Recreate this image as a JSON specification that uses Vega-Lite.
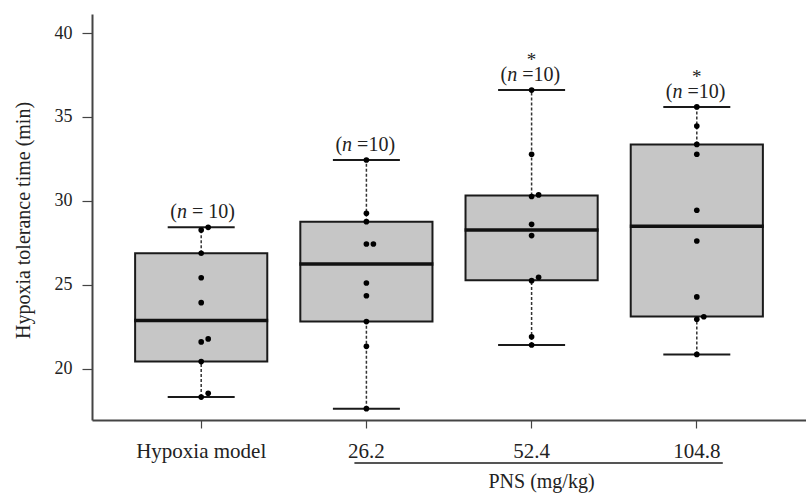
{
  "$schema": "https://vega.github.io/schema/vega-lite/v6.json",
  "width": 714,
  "height": 406,
  "autosize": {"type": "none"},
  "padding": {"left": 92, "top": 14, "right": 0, "bottom": 74},
  "background": "white",
  "config": {"view": {"stroke": null}, "font": "Liberation Serif"},
  "datasets": {
    "boxes": [
      {"group": "Hypoxia model", "lo": 18.33, "q1": 20.44, "median": 22.88, "q3": 26.89, "hi": 28.43, "rest": "= 10)", "star": ""},
      {"group": "26.2", "lo": 17.64, "q1": 22.82, "median": 26.25, "q3": 28.77, "hi": 32.44, "rest": "=10)", "star": ""},
      {"group": "52.4", "lo": 21.43, "q1": 25.28, "median": 28.27, "q3": 30.32, "hi": 36.6, "rest": "=10)", "star": "*"},
      {"group": "104.8", "lo": 20.87, "q1": 23.13, "median": 28.5, "q3": 33.37, "hi": 35.6, "rest": "=10)", "star": "*"}
    ],
    "points": [
      {"group": "Hypoxia model", "time": 28.27, "jit": 0},
      {"group": "Hypoxia model", "time": 28.43, "jit": 1},
      {"group": "Hypoxia model", "time": 26.89, "jit": 0},
      {"group": "Hypoxia model", "time": 25.43, "jit": 0},
      {"group": "Hypoxia model", "time": 23.95, "jit": 0},
      {"group": "Hypoxia model", "time": 21.61, "jit": 0},
      {"group": "Hypoxia model", "time": 21.79, "jit": 1},
      {"group": "Hypoxia model", "time": 20.44, "jit": 0},
      {"group": "Hypoxia model", "time": 18.33, "jit": 0},
      {"group": "Hypoxia model", "time": 18.55, "jit": 1},
      {"group": "26.2", "time": 32.44, "jit": 0},
      {"group": "26.2", "time": 29.27, "jit": 0},
      {"group": "26.2", "time": 28.77, "jit": 0},
      {"group": "26.2", "time": 27.44, "jit": 0},
      {"group": "26.2", "time": 27.44, "jit": 1},
      {"group": "26.2", "time": 25.12, "jit": 0},
      {"group": "26.2", "time": 24.36, "jit": 0},
      {"group": "26.2", "time": 22.82, "jit": 0},
      {"group": "26.2", "time": 21.35, "jit": 0},
      {"group": "26.2", "time": 17.64, "jit": 0},
      {"group": "52.4", "time": 36.6, "jit": 0},
      {"group": "52.4", "time": 32.78, "jit": 0},
      {"group": "52.4", "time": 30.27, "jit": 0},
      {"group": "52.4", "time": 30.36, "jit": 1},
      {"group": "52.4", "time": 28.61, "jit": 0},
      {"group": "52.4", "time": 27.94, "jit": 0},
      {"group": "52.4", "time": 25.26, "jit": 0},
      {"group": "52.4", "time": 25.46, "jit": 1},
      {"group": "52.4", "time": 21.92, "jit": 0},
      {"group": "52.4", "time": 21.43, "jit": 0},
      {"group": "104.8", "time": 35.6, "jit": 0},
      {"group": "104.8", "time": 34.46, "jit": 0},
      {"group": "104.8", "time": 33.37, "jit": 0},
      {"group": "104.8", "time": 32.78, "jit": 0},
      {"group": "104.8", "time": 29.45, "jit": 0},
      {"group": "104.8", "time": 27.62, "jit": 0},
      {"group": "104.8", "time": 24.29, "jit": 0},
      {"group": "104.8", "time": 22.96, "jit": 0},
      {"group": "104.8", "time": 23.11, "jit": 1},
      {"group": "104.8", "time": 20.87, "jit": 0}
    ]
  },
  "encoding": {
    "x": {
      "field": "group",
      "type": "nominal",
      "sort": null,
      "scale": {"domain": ["Hypoxia model", "26.2", "52.4", "104.8"], "paddingInner": 0.2, "paddingOuter": 0.261},
      "axis": {
        "title": "PNS (mg/kg)",
        "titleFontSize": 20,
        "titleFontWeight": "normal",
        "titleColor": "#222",
        "titleX": 449,
        "titleY": 67,
        "titleBaseline": "alphabetic",
        "titleAlign": "center",
        "labelAngle": 0,
        "labelFontSize": 21,
        "labelColor": "#222",
        "labelBaseline": "alphabetic",
        "labelPadding": 29,
        "tickSize": 8,
        "tickColor": "#444",
        "tickWidth": 1.2,
        "domainColor": "#444",
        "domainWidth": 2,
        "grid": false
      }
    }
  },
  "layer": [
    {
      "data": {"name": "boxes"},
      "mark": {"type": "rule", "strokeDash": [3, 2], "strokeWidth": 1.5, "color": "#333"},
      "encoding": {
        "y": {"field": "q3", "type": "quantitative", "scale": {"domain": [16.964, 41.131], "nice": false, "zero": false},
          "axis": {
            "title": "Hypoxia tolerance time (min)",
            "titleFontSize": 20,
            "titleFontWeight": "normal",
            "titleColor": "#222",
            "titleX": -63,
            "titleY": 206,
            "titleAngle": -90,
            "titleBaseline": "alphabetic",
            "titleAlign": "center",
            "values": [20, 25, 30, 35, 40],
            "labelFontSize": 18,
            "labelColor": "#222",
            "labelPadding": 10,
            "tickSize": 10,
            "tickColor": "#444",
            "tickWidth": 1.2,
            "domainColor": "#444",
            "domainWidth": 2,
            "grid": false
          }
        },
        "y2": {"field": "hi"}
      }
    },
    {
      "data": {"name": "boxes"},
      "mark": {"type": "rule", "strokeDash": [3, 2], "strokeWidth": 1.5, "color": "#333"},
      "encoding": {
        "y": {"field": "lo", "type": "quantitative", "scale": {"domain": [16.964, 41.131], "nice": false, "zero": false}},
        "y2": {"field": "q1"}
      }
    },
    {
      "data": {"name": "boxes"},
      "mark": {"type": "bar", "fill": "#c6c6c6", "stroke": "#1a1a1a", "strokeWidth": 2},
      "encoding": {
        "y": {"field": "q1", "type": "quantitative", "scale": {"domain": [16.964, 41.131], "nice": false, "zero": false}},
        "y2": {"field": "q3"}
      }
    },
    {
      "data": {"name": "boxes"},
      "mark": {"type": "tick", "size": 134, "thickness": 3.5, "color": "#111", "opacity": 1},
      "encoding": {
        "y": {"field": "median", "type": "quantitative", "scale": {"domain": [16.964, 41.131], "nice": false, "zero": false}}
      }
    },
    {
      "data": {"name": "boxes"},
      "mark": {"type": "tick", "size": 67, "thickness": 2, "color": "#1a1a1a", "opacity": 1},
      "encoding": {
        "y": {"field": "hi", "type": "quantitative", "scale": {"domain": [16.964, 41.131], "nice": false, "zero": false}}
      }
    },
    {
      "data": {"name": "boxes"},
      "mark": {"type": "tick", "size": 67, "thickness": 2, "color": "#1a1a1a", "opacity": 1},
      "encoding": {
        "y": {"field": "lo", "type": "quantitative", "scale": {"domain": [16.964, 41.131], "nice": false, "zero": false}}
      }
    },
    {
      "data": {"name": "points"},
      "transform": [{"filter": "datum.jit == 0"}],
      "mark": {"type": "circle", "size": 32, "color": "#000", "opacity": 1},
      "encoding": {
        "y": {"field": "time", "type": "quantitative", "scale": {"domain": [16.964, 41.131], "nice": false, "zero": false}}
      }
    },
    {
      "data": {"name": "points"},
      "transform": [{"filter": "datum.jit == 1"}],
      "mark": {"type": "circle", "size": 32, "color": "#000", "opacity": 1, "xOffset": 7},
      "encoding": {
        "y": {"field": "time", "type": "quantitative", "scale": {"domain": [16.964, 41.131], "nice": false, "zero": false}}
      }
    },
    {
      "data": {"name": "boxes"},
      "mark": {"type": "text", "text": "(", "align": "left", "baseline": "alphabetic", "dx": -31, "dy": -9, "fontSize": 20, "color": "#222"},
      "encoding": {
        "y": {"field": "hi", "type": "quantitative", "scale": {"domain": [16.964, 41.131], "nice": false, "zero": false}}
      }
    },
    {
      "data": {"name": "boxes"},
      "mark": {"type": "text", "text": "n", "fontStyle": "italic", "align": "left", "baseline": "alphabetic", "dx": -24.3, "dy": -9, "fontSize": 20, "color": "#222"},
      "encoding": {
        "y": {"field": "hi", "type": "quantitative", "scale": {"domain": [16.964, 41.131], "nice": false, "zero": false}}
      }
    },
    {
      "data": {"name": "boxes"},
      "mark": {"type": "text", "align": "left", "baseline": "alphabetic", "dx": -9.3, "dy": -9, "fontSize": 20, "color": "#222"},
      "encoding": {
        "y": {"field": "hi", "type": "quantitative", "scale": {"domain": [16.964, 41.131], "nice": false, "zero": false}},
        "text": {"field": "rest"}
      }
    },
    {
      "data": {"name": "boxes"},
      "mark": {"type": "text", "align": "center", "baseline": "alphabetic", "dx": 0, "dy": -24, "fontSize": 19, "color": "#222"},
      "encoding": {
        "y": {"field": "hi", "type": "quantitative", "scale": {"domain": [16.964, 41.131], "nice": false, "zero": false}},
        "text": {"field": "star"}
      }
    },
    {
      "data": {"values": [{"span": "PNS"}]},
      "mark": {"type": "rule", "xOffset": -12, "x2Offset": 26, "strokeWidth": 2, "color": "#555", "clip": false},
      "encoding": {
        "x": {"datum": "26.2", "type": "nominal"},
        "x2": {"datum": "104.8"},
        "y": {"datum": 14.4, "type": "quantitative", "scale": {"domain": [16.964, 41.131], "nice": false, "zero": false}}
      }
    }
  ]
}
